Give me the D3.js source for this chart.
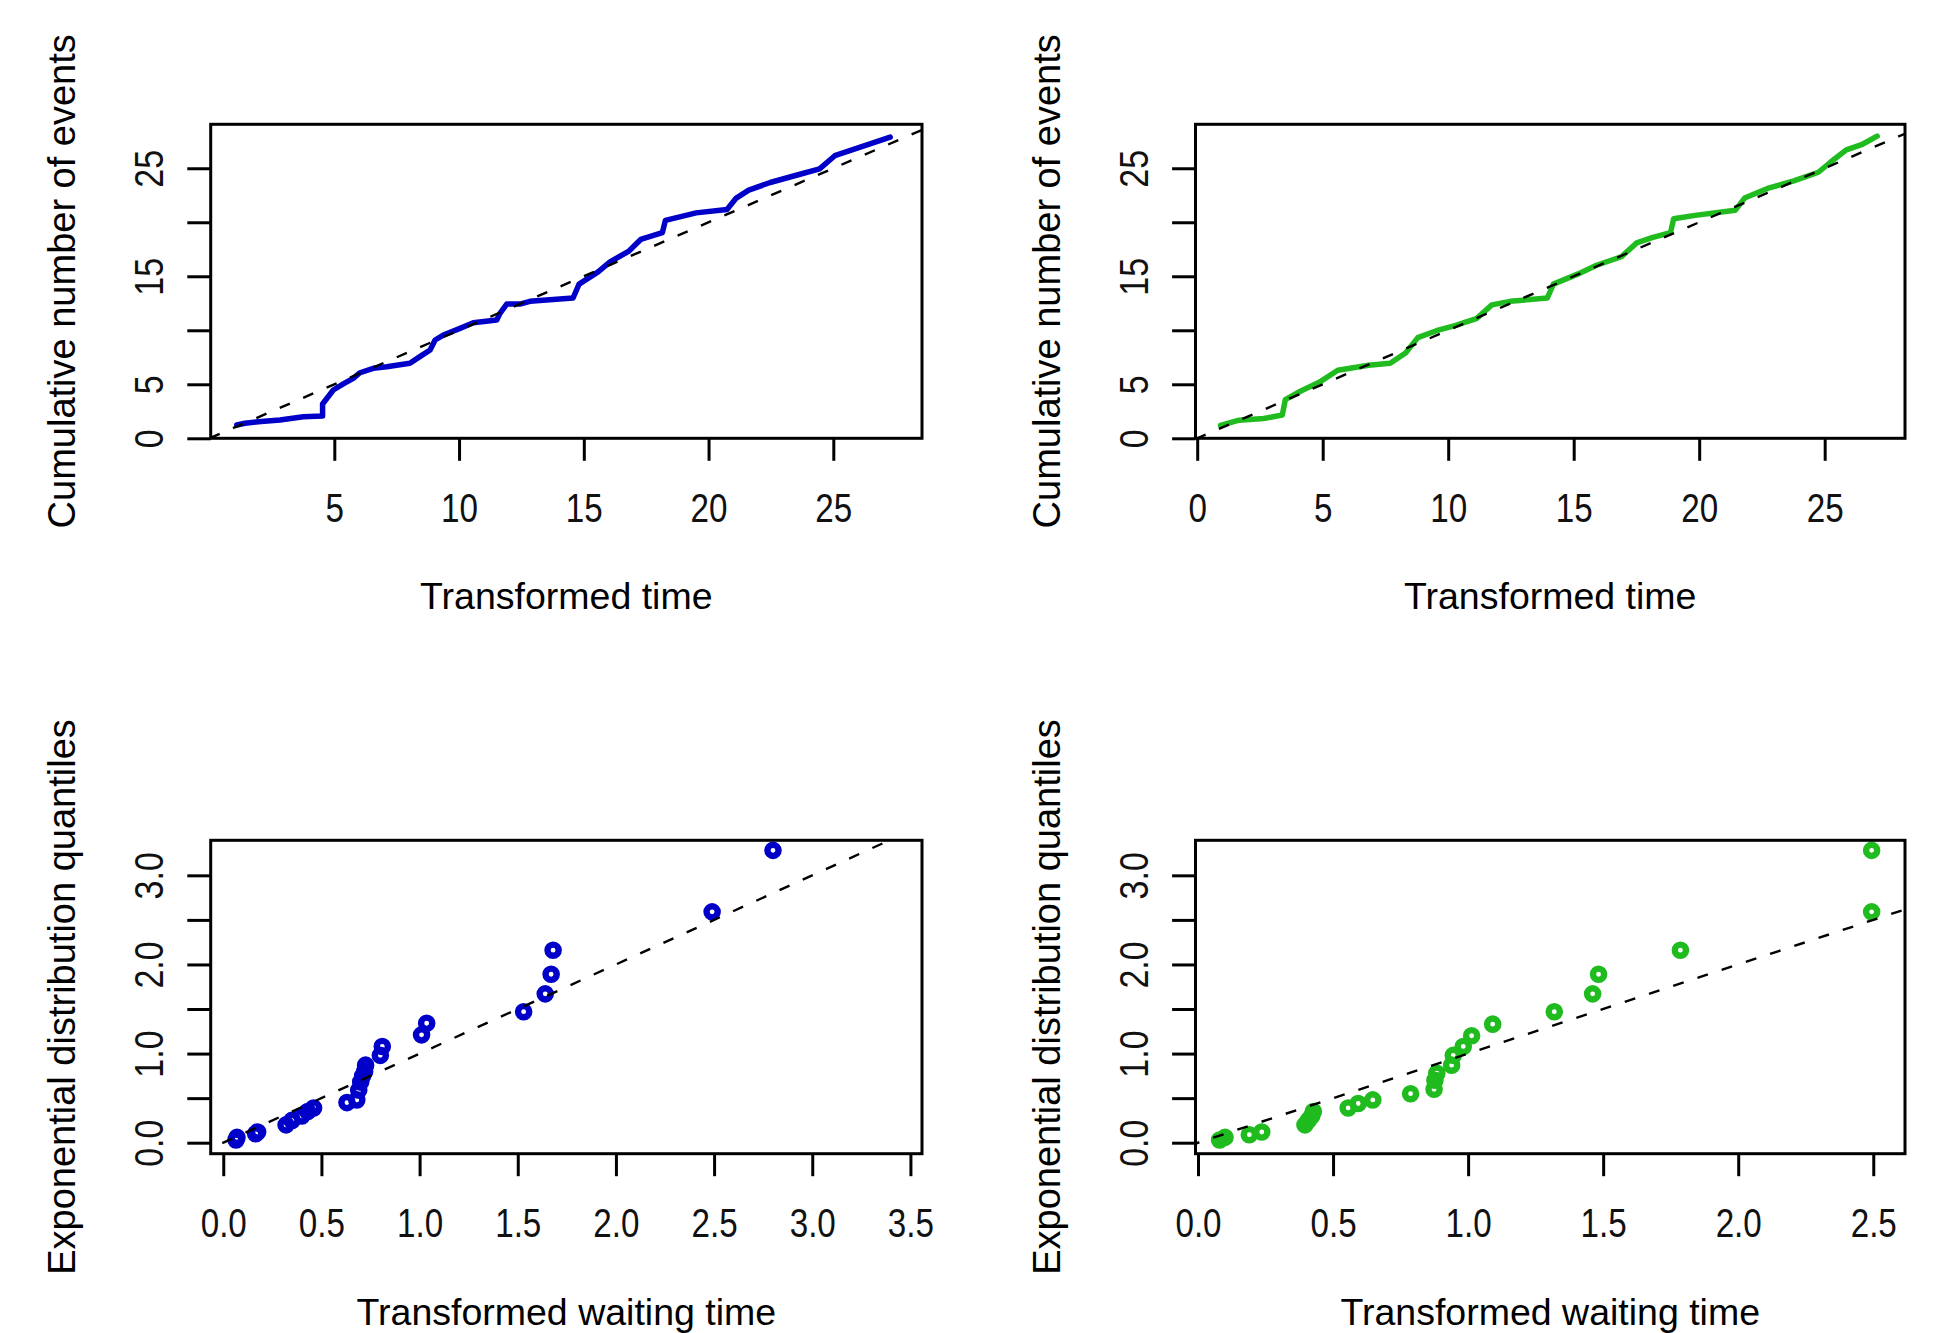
<!DOCTYPE html>
<html>
<head>
<meta charset="utf-8">
<script src="https://cdn.jsdelivr.net/npm/d3@7"></script>
<style>
  html, body { margin: 0; padding: 0; background: #ffffff; }
  svg { display: block; }
</style>
</head>
<body>
<svg id="chart" width="1936" height="1333"></svg>
<script>
// ---------------- data ----------------
// Top-left: cumulative number of events vs transformed time (blue)
const blueTime  = [1.09, 1.42, 1.95, 2.82, 3.76, 4.53, 4.53, 4.96, 5.36, 5.76, 6.03, 6.56, 7.10, 8.03, 8.43, 8.84, 9.04, 9.37, 10.04, 10.57, 11.51, 11.64, 11.91, 12.44, 12.84, 14.57, 14.81, 15.56, 16.05, 16.79, 17.28, 18.15, 18.27, 19.50, 20.74, 21.11, 21.61, 22.47, 23.70, 24.45, 25.06, 26.17, 27.28];
const blueCount = [1.23, 1.39, 1.54, 1.69, 2.00, 2.06, 3.18, 4.47, 5.03, 5.55, 6.07, 6.48, 6.63, 6.94, 7.56, 8.18, 9.10, 9.56, 10.18, 10.70, 10.95, 11.57, 12.43, 12.43, 12.68, 12.99, 14.27, 15.38, 16.34, 17.30, 18.41, 19.05, 20.17, 20.87, 21.19, 22.24, 22.97, 23.68, 24.47, 24.94, 26.16, 27.02, 27.88];

// Top-right: cumulative number of events vs transformed time (green)
const greenTime  = [0.93, 1.67, 2.65, 3.39, 3.51, 4.13, 4.86, 5.60, 6.83, 7.69, 8.30, 8.79, 9.53, 10.27, 11.12, 11.74, 12.47, 13.95, 14.19, 15.18, 15.91, 16.90, 17.51, 18.12, 18.86, 18.98, 19.84, 21.44, 21.81, 22.79, 23.77, 24.75, 25.24, 25.86, 26.47, 27.09];
const greenCount = [1.19, 1.68, 1.83, 2.15, 3.58, 4.38, 5.18, 6.30, 6.77, 6.94, 7.89, 9.32, 9.96, 10.44, 11.07, 12.35, 12.68, 12.99, 14.27, 15.22, 16.02, 16.81, 18.09, 18.57, 19.05, 20.32, 20.64, 21.12, 22.24, 23.19, 23.83, 24.63, 25.58, 26.70, 27.18, 27.97];

// Bottom-left: transformed waiting time vs exponential quantiles (blue)
const blueWaiting  = [0.065, 0.07, 0.165, 0.175, 0.32, 0.35, 0.40, 0.43, 0.46, 0.63, 0.68, 0.69, 0.70, 0.71, 0.72, 0.725, 0.80, 0.81, 1.01, 1.036, 1.53, 1.64, 1.67, 1.68, 2.49, 2.80];
const blueQuantile = [0.03, 0.06, 0.10, 0.12, 0.20, 0.25, 0.30, 0.35, 0.39, 0.45, 0.48, 0.59, 0.68, 0.75, 0.80, 0.87, 0.98, 1.08, 1.21, 1.34, 1.47, 1.67, 1.89, 2.16, 2.59, 3.28];

// Bottom-right: transformed waiting time vs exponential quantiles (green)
const greenWaiting  = [0.08, 0.10, 0.19, 0.236, 0.396, 0.408, 0.421, 0.427, 0.556, 0.593, 0.647, 0.787, 0.874, 0.877, 0.884, 0.939, 0.945, 0.982, 1.013, 1.091, 1.319, 1.461, 1.483, 1.786, 2.494, 2.494];
const greenQuantile = [0.03, 0.06, 0.09, 0.12, 0.20, 0.25, 0.30, 0.35, 0.39, 0.44, 0.48, 0.55, 0.60, 0.70, 0.78, 0.87, 0.98, 1.08, 1.20, 1.33, 1.47, 1.67, 1.89, 2.16, 2.59, 3.28];

// Ticks and tick labels
const topLeftXTicks      = [5, 10, 15, 20, 25];
const topLeftXLabels     = ["5", "10", "15", "20", "25"];
const topRightXTicks     = [0, 5, 10, 15, 20, 25];
const topRightXLabels    = ["0", "5", "10", "15", "20", "25"];
const topYTicks          = [0, 5, 10, 15, 20, 25];
const topYLabels         = ["0", "5", "", "15", "", "25"];
const bottomLeftXTicks   = [0, 0.5, 1, 1.5, 2, 2.5, 3, 3.5];
const bottomLeftXLabels  = ["0.0", "0.5", "1.0", "1.5", "2.0", "2.5", "3.0", "3.5"];
const bottomRightXTicks  = [0, 0.5, 1, 1.5, 2, 2.5];
const bottomRightXLabels = ["0.0", "0.5", "1.0", "1.5", "2.0", "2.5"];
const bottomYTicks       = [0, 0.5, 1, 1.5, 2, 2.5, 3];
const bottomYLabels      = ["0.0", "", "1.0", "", "2.0", "", "3.0"];

// Axis titles
const topXTitle    = "Transformed time";
const topYTitle    = "Cumulative number of events";
const bottomXTitle = "Transformed waiting time";
const bottomYTitle = "Exponential distribution quantiles";

// ---------------- styling / layout ----------------
const BLUE  = "#0000c8";
const GREEN = "#1fbb1f";
const FONT  = "'Liberation Sans', Arial, Helvetica, sans-serif";

const svg = d3.select("#chart");

function drawPanel(cfg, idx) {
  const x = d3.scaleLinear().domain(cfg.xDomain).range([cfg.left, cfg.right]);
  const y = d3.scaleLinear().domain(cfg.yDomain).range([cfg.bottom, cfg.top]);
  const g = svg.append("g");

  const clipId = "clip" + idx;
  g.append("clipPath").attr("id", clipId)
    .append("rect")
    .attr("x", cfg.left).attr("y", cfg.top)
    .attr("width", cfg.right - cfg.left).attr("height", cfg.bottom - cfg.top);

  const plot = g.append("g").attr("clip-path", `url(#${clipId})`);

  const pts = cfg.xs.map((v, i) => [v, cfg.ys[i]]);
  if (cfg.kind === "line") {
    plot.append("path")
      .datum(pts)
      .attr("d", d3.line().x(d => x(d[0])).y(d => y(d[1])))
      .attr("fill", "none")
      .attr("stroke", cfg.color)
      .attr("stroke-width", 5.5)
      .attr("stroke-linejoin", "round")
      .attr("stroke-linecap", "round");
  } else {
    plot.selectAll("circle.pt").data(pts).enter().append("circle")
      .attr("class", "pt")
      .attr("cx", d => x(d[0]))
      .attr("cy", d => y(d[1]))
      .attr("r", 5.6)
      .attr("fill", "none")
      .attr("stroke", cfg.color)
      .attr("stroke-width", 6.4);
  }

  // reference line y = x (dashed), clipped to plot region
  const lo = Math.min(cfg.xDomain[0], cfg.yDomain[0]);
  const hi = Math.max(cfg.xDomain[1], cfg.yDomain[1]);
  plot.append("path")
    .datum([[lo, lo], [hi, hi]])
    .attr("d", d3.line().x(d => x(d[0])).y(d => y(d[1])))
    .attr("fill", "none")
    .attr("stroke", "#000")
    .attr("stroke-width", 2.4)
    .attr("stroke-dasharray", "11,14.5");

  // box
  g.append("rect")
    .attr("x", cfg.left).attr("y", cfg.top)
    .attr("width", cfg.right - cfg.left).attr("height", cfg.bottom - cfg.top)
    .attr("fill", "none").attr("stroke", "#000").attr("stroke-width", 3);

  // x axis
  const xAxis = d3.axisBottom(x)
    .tickValues(cfg.xTicks)
    .tickFormat((d, i) => cfg.xLabels[i])
    .tickSize(22.5).tickSizeOuter(0);
  const gx = g.append("g").attr("transform", `translate(0,${cfg.bottom})`).call(xAxis);
  gx.select(".domain").remove();
  gx.selectAll(".tick line").attr("stroke", "#000").attr("stroke-width", 3);
  gx.selectAll(".tick text")
    .attr("y", 83.4).attr("dy", null)
    .attr("fill", "#111")
    .attr("text-anchor", "middle")
    .attr("transform", "scale(0.83,1)")
    .style("font-family", FONT)
    .style("font-size", "40px");

  // y axis
  const yAxis = d3.axisLeft(y)
    .tickValues(cfg.yTicks)
    .tickFormat((d, i) => cfg.yLabels[i])
    .tickSize(23.4).tickSizeOuter(0);
  const gy = g.append("g").attr("transform", `translate(${cfg.left},0)`).call(yAxis);
  gy.select(".domain").remove();
  gy.selectAll(".tick line").attr("stroke", "#000").attr("stroke-width", 3);
  gy.selectAll(".tick text")
    .attr("x", 0).attr("y", 0).attr("dy", null)
    .attr("fill", "#111")
    .attr("text-anchor", "middle")
    .attr("transform", "translate(-47.4,0) rotate(-90) scale(0.83,1)")
    .style("font-family", FONT)
    .style("font-size", "41px");

  // axis titles
  g.append("text")
    .attr("x", (cfg.left + cfg.right) / 2)
    .attr("y", cfg.bottom + 171)
    .attr("text-anchor", "middle")
    .attr("fill", "#000")
    .style("font-family", FONT)
    .style("font-size", "37.5px")
    .text(cfg.xTitle);

  g.append("text")
    .attr("transform", `translate(${cfg.left - 135.7},${(cfg.top + cfg.bottom) / 2}) rotate(-90)`)
    .attr("text-anchor", "middle")
    .attr("fill", "#000")
    .style("font-family", FONT)
    .style("font-size", "38px")
    .text(cfg.yTitle);
}

const panels = [
  { left: 210.7, right: 922, top: 124.3, bottom: 438.3,
    xDomain: [0.046, 28.555], yDomain: [0, 29.07],
    xs: blueTime, ys: blueCount, kind: "line", color: BLUE,
    xTicks: topLeftXTicks, xLabels: topLeftXLabels,
    yTicks: topYTicks, yLabels: topYLabels,
    xTitle: topXTitle, yTitle: topYTitle },
  { left: 1195.5, right: 1905, top: 124.3, bottom: 438.3,
    xDomain: [-0.068, 28.2], yDomain: [0, 29.07],
    xs: greenTime, ys: greenCount, kind: "line", color: GREEN,
    xTicks: topRightXTicks, xLabels: topRightXLabels,
    yTicks: topYTicks, yLabels: topYLabels,
    xTitle: topXTitle, yTitle: topYTitle },
  { left: 210.7, right: 922, top: 840.3, bottom: 1153.7,
    xDomain: [-0.064, 3.559], yDomain: [-0.1234, 3.393],
    xs: blueWaiting, ys: blueQuantile, kind: "points", color: BLUE,
    xTicks: bottomLeftXTicks, xLabels: bottomLeftXLabels,
    yTicks: bottomYTicks, yLabels: bottomYLabels,
    xTitle: bottomXTitle, yTitle: bottomYTitle },
  { left: 1195.5, right: 1905, top: 840.3, bottom: 1153.7,
    xDomain: [-0.0093, 2.6175], yDomain: [-0.1234, 3.393],
    xs: greenWaiting, ys: greenQuantile, kind: "points", color: GREEN,
    xTicks: bottomRightXTicks, xLabels: bottomRightXLabels,
    yTicks: bottomYTicks, yLabels: bottomYLabels,
    xTitle: bottomXTitle, yTitle: bottomYTitle }
];

panels.forEach((p, i) => drawPanel(p, i));
</script>
</body>
</html>
